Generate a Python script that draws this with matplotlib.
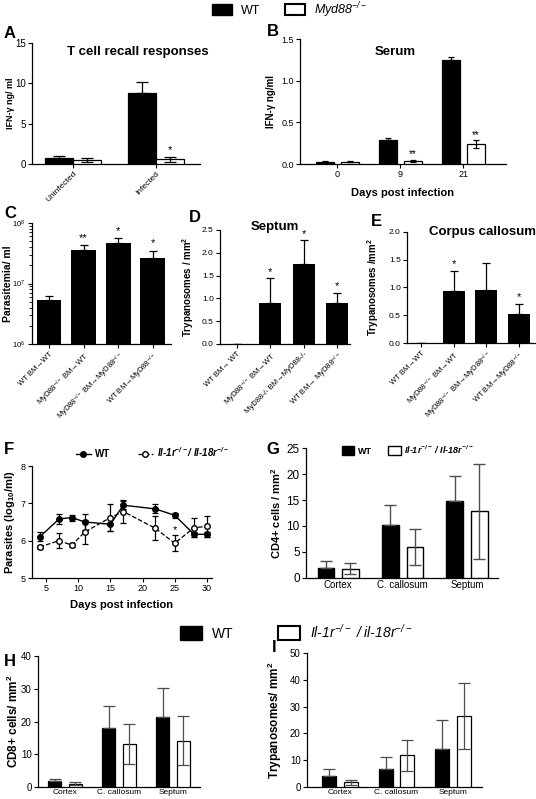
import numpy as np
import matplotlib
matplotlib.use("Agg")
import matplotlib.pyplot as plt
from matplotlib.patches import Patch
from matplotlib.lines import Line2D

plt.rcParams['font.family'] = ['Liberation Sans', 'DejaVu Sans']
plt.rcParams['mathtext.default'] = 'regular'
plt.rcParams['axes.linewidth'] = 0.9

W, H = 536, 799
KO = r'$^{-/-}$'

# ---- data ----
a_groups = ['Uninfected', 'Infected']
a_wt, a_wt_err = [0.8, 8.8], [0.2, 1.4]
a_ko, a_ko_err = [0.5, 0.6], [0.2, 0.3]
a_ko_sig = ['', '*']

b_days = ['0', '9', '21']
b_wt, b_wt_err = [0.03, 0.29, 1.25], [0.005, 0.02, 0.04]
b_ko, b_ko_err = [0.03, 0.04, 0.24], [0.005, 0.01, 0.045]
b_ko_sig = ['', '**', '**']

chim_labels = ['WT BM→WT', 'MyD88' + KO + ' BM→WT',
               'MyD88' + KO + ' BM→MyD88' + KO, 'WT BM→MyD88' + KO]
chim_labels_d = ['WT BM→ WT', 'MyD88' + KO + ' BM→WT',
                 'MyD88-/- BM→MyD88-/-', 'WT BM→ MyD88' + KO]
c_vals = [5.3e6, 3.6e7, 4.6e7, 2.6e7]
c_err = [0.9e6, 0.7e7, 1.0e7, 0.9e7]
c_sig = ['', '**', '*', '*']
d_vals = [0.0, 0.9, 1.75, 0.9]
d_err = [0.0, 0.54, 0.52, 0.22]
d_sig = ['', '*', '*', '*']
e_vals = [0.0, 0.93, 0.96, 0.53]
e_err = [0.0, 0.37, 0.49, 0.18]
e_sig = ['', '*', '', '*']

f_days = [4, 7, 9, 11, 15, 17, 22, 25, 28, 30]
f_wt = [6.1, 6.58, 6.62, 6.5, 6.44, 6.95, 6.85, 6.68, 6.17, 6.17]
f_wt_err = [0.12, 0.14, 0.08, 0.22, 0.17, 0.11, 0.12, 0.07, 0.07, 0.06]
f_ko = [5.83, 6.0, 5.88, 6.23, 6.62, 6.78, 6.33, 5.93, 6.35, 6.38]
f_ko_err = [0.05, 0.2, 0.06, 0.32, 0.35, 0.3, 0.32, 0.22, 0.25, 0.28]
f_sig_day = 25

regions = ['Cortex', 'C. callosum', 'Septum']
g_wt, g_wt_err = [2.0, 10.2, 14.8], [1.2, 3.9, 4.9]
g_ko, g_ko_err = [1.8, 6.0, 12.8], [1.0, 3.5, 9.2]
h_wt, h_wt_err = [1.8, 18.0, 21.4], [0.6, 6.8, 8.8]
h_ko, h_ko_err = [1.0, 13.1, 14.1], [0.5, 6.2, 7.5]
i_wt, i_wt_err = [4.2, 6.9, 14.2], [2.5, 4.2, 10.7]
i_ko, i_ko_err = [1.7, 11.8, 26.4], [0.8, 5.8, 12.4]

fig = plt.figure(figsize=(W / 100, H / 100), dpi=100)


def add_ax(l, t, r, b):
    ax = fig.add_axes([l / W, 1 - b / H, (r - l) / W, (b - t) / H])
    for s in ['top', 'right']:
        ax.spines[s].set_visible(False)
    ax.tick_params(direction='out', length=3, width=0.8, pad=1.5)
    return ax


def ylab(ax, txt, px, size, l, r):
    # px = right edge of the rotated label, in figure pixels
    ax.set_ylabel(txt, fontsize=size, fontweight='bold')
    ax.yaxis.set_label_coords((px - l) / (r - l), 0.5)


def letter(x, y, s):
    fig.text(x / W, 1 - y / H, s, fontsize=12, fontweight='bold', va='center')


def paired(ax, wt, wte, ko, koe, width, off, ecol='k', lw=0.9, cap=2.5):
    x = np.arange(len(wt))
    ax.bar(x - off, wt, width, color='k', edgecolor='k', linewidth=lw, zorder=3)
    ax.bar(x + off, ko, width, color='w', edgecolor='k', linewidth=lw, zorder=3)
    ax.errorbar(x - off, wt, yerr=[np.zeros(len(wt)), wte], fmt='none', ecolor=ecol,
                elinewidth=lw, capsize=cap, capthick=lw, zorder=4)
    ax.errorbar(x + off, ko, yerr=koe, fmt='none', ecolor=ecol,
                elinewidth=lw, capsize=cap, capthick=lw, zorder=4)
    return x


# ---- A ----
l, t, r, b = 32, 43, 200, 164
ax = add_ax(l, t, r, b)
x = paired(ax, a_wt, a_wt_err, a_ko, a_ko_err, 0.337, 0.17, cap=4)
for xi, v, e, s in zip(x, a_ko, a_ko_err, a_ko_sig):
    ax.text(xi + 0.17, v + e + 0.4, s, ha='center', fontsize=8)
ax.set_xlim(-0.494, 1.53)
ax.set_ylim(0, 15)
ax.set_yticks([0, 5, 10, 15])
ax.set_xticks(x)
ax.set_xticklabels(a_groups, rotation=45, ha='right', rotation_mode='anchor', fontsize=6)
ax.tick_params(axis='y', labelsize=7)
ylab(ax, 'IFN-γ ng/ ml', 15, 6.5, l, r)
ax.text(0.63, 0.925, 'T cell recall responses', transform=ax.transAxes,
        ha='center', va='center', fontsize=9.5, fontweight='bold')
letter(4, 33, 'A')

# ---- B ----
l, t, r, b = 300, 39, 506, 164
ax = add_ax(l, t, r, b)
x = paired(ax, b_wt, b_wt_err, b_ko, b_ko_err, 0.286, 0.2)
for xi, v, e, s in zip(x, b_ko, b_ko_err, b_ko_sig):
    ax.text(xi + 0.2, v + e + 0.03, s, ha='center', fontsize=7)
ax.set_xlim(-0.59, 2.68)
ax.set_ylim(0, 1.5)
ax.set_yticks([0, 0.5, 1.0, 1.5])
ax.set_yticklabels(['0.0', '0.5', '1.0', '1.5'])
ax.set_xticks(x)
ax.set_xticklabels(b_days)
ax.tick_params(labelsize=6.5)
ax.set_xlabel('Days post infection', fontsize=8, fontweight='bold', labelpad=6)
ylab(ax, 'IFN-γ ng/ml', 276, 7, l, r)
ax.text(0.46, 0.9, 'Serum', transform=ax.transAxes, ha='center', va='center',
        fontsize=9.5, fontweight='bold')
letter(267, 31, 'B')


def chimera(ax, vals, err, sig, width, lo, hi, stardy, log=False):
    x = np.arange(len(vals))
    ax.bar(x, vals, width, color='k', zorder=3)
    ax.errorbar(x, vals, yerr=[np.zeros(len(vals)), err], fmt='none', ecolor='k',
                elinewidth=0.9, capsize=3, capthick=0.9, zorder=2)
    for xi, v, e, s in zip(x, vals, err, sig):
        y = (v + e) * stardy if log else v + e + stardy
        ax.text(xi, y, s, ha='center', va='bottom', fontsize=8)
    ax.set_xlim(lo, hi)
    ax.set_xticks(x)
    return x


# ---- C ----
l, t, r, b = 32, 223, 171, 344
ax = add_ax(l, t, r, b)
ax.set_yscale('log')
chimera(ax, c_vals, c_err, c_sig, 0.72, -0.49, 3.52, 1.08, log=True)
ax.set_ylim(1e6, 1e8)
ax.set_xticklabels(chim_labels, rotation=45, ha='right', rotation_mode='anchor', fontsize=5.5)
ax.tick_params(axis='y', labelsize=5.5)
ax.tick_params(axis='y', which='minor', length=2, width=0.6)
ylab(ax, 'Parasitemia/ ml', 13, 7.5, l, r)
letter(4, 213, 'C')

# ---- D ----
l, t, r, b = 220, 230, 350, 344
ax = add_ax(l, t, r, b)
chimera(ax, d_vals, d_err, d_sig, 0.66, -0.51, 3.39, 0.03)
ax.set_ylim(0, 2.5)
ax.set_yticks(np.arange(0, 2.6, 0.5))
ax.set_yticklabels(['0.0', '0.5', '1.0', '1.5', '2.0', '2.5'])
ax.set_xticklabels(chim_labels_d, rotation=45, ha='right', rotation_mode='anchor', fontsize=5.5)
ax.tick_params(axis='y', labelsize=6)
ylab(ax, 'Trypanosomes / mm$^2$', 196, 7, l, r)
ax.text(0.42, 1.03, 'Septum', transform=ax.transAxes, ha='center', va='center',
        fontsize=9.5, fontweight='bold')
letter(189, 218, 'D')

# ---- E ----
l, t, r, b = 407, 232, 535, 343
ax = add_ax(l, t, r, b)
chimera(ax, e_vals, e_err, e_sig, 0.67, -0.43, 3.49, 0.03)
ax.set_ylim(0, 2.0)
ax.set_yticks(np.arange(0, 2.1, 0.5))
ax.set_yticklabels(['0.0', '0.5', '1.0', '1.5', '2.0'])
ax.set_xticklabels(chim_labels, rotation=45, ha='right', rotation_mode='anchor', fontsize=5.5)
ax.tick_params(axis='y', labelsize=6)
ylab(ax, 'Trypanosomes /mm$^2$', 381, 7, l, r)
ax.text(0.59, 1.0, 'Corpus callosum', transform=ax.transAxes, ha='center', va='center',
        fontsize=9.5, fontweight='bold')
letter(371, 222, 'E')

# ---- F ----
l, t, r, b = 32, 466, 212, 578
ax = add_ax(l, t, r, b)
ax.errorbar(f_days, f_wt, yerr=f_wt_err, fmt='-o', color='k', ms=4, lw=1,
            elinewidth=0.9, capsize=2.5, capthick=0.9, zorder=3)
ax.errorbar(f_days, f_ko, yerr=f_ko_err, fmt='--o', color='k', mfc='w', ms=4, lw=0.9,
            elinewidth=0.9, capsize=2.5, capthick=0.9, zorder=4)
k = f_days.index(f_sig_day)
ax.text(f_sig_day, f_ko[k] + f_ko_err[k] + 0.0, '*', ha='center', va='bottom', fontsize=8)
ax.set_xlim(2.8, 30.8)
ax.set_ylim(5, 8)
ax.set_xticks([5, 10, 15, 20, 25, 30])
ax.set_yticks([5, 6, 7, 8])
ax.tick_params(labelsize=6.5)
ax.set_xlabel('Days post infection', fontsize=8, fontweight='bold', labelpad=5)
ylab(ax, 'Parasites (log$_{10}$/ml)', 17, 8, l, r)
fh = [Line2D([], [], color='k', marker='o', ms=4, lw=1),
      Line2D([], [], color='k', marker='o', mfc='w', ms=4, lw=0.9, ls='--')]
leg = ax.legend(fh, ['WT', 'Il-1r' + KO + '/ Il-18r' + KO], loc='lower center',
                bbox_to_anchor=(0.67, 0.98), ncol=2, frameon=False,
                fontsize=7, handlelength=1.6, columnspacing=2.8, handletextpad=0.4)
for txt in leg.get_texts():
    txt.set_fontweight('bold')
leg.get_texts()[1].set_fontstyle('italic')
letter(4, 450, 'F')

# ---- G ----
l, t, r, b = 306, 448, 498, 578
ax = add_ax(l, t, r, b)
x = paired(ax, g_wt, g_wt_err, g_ko, g_ko_err, 0.26, 0.19, ecol='0.3', lw=1.0, cap=4)
ax.set_xlim(-0.5, 2.48)
ax.set_ylim(0, 25)
ax.set_yticks(np.arange(0, 26, 5))
ax.set_xticks(x)
ax.set_xticklabels(regions)
ax.tick_params(axis='x', labelsize=7, length=0)
ax.tick_params(axis='y', labelsize=8.5)
ylab(ax, 'CD4+ cells / mm$^2$', 283, 8, l, r)
hnd = [Patch(facecolor='k', edgecolor='k'), Patch(facecolor='w', edgecolor='k')]
leg = ax.legend(hnd, ['WT', 'Il-1r' + KO + ' / Il-18r' + KO], loc='center',
                bbox_to_anchor=(0.53, 0.99), ncol=2, frameon=False, fontsize=6.5,
                handlelength=1.4, handleheight=1.3, columnspacing=1.8, handletextpad=0.4)
for txt in leg.get_texts():
    txt.set_fontweight('bold')
leg.get_texts()[1].set_fontstyle('italic')
letter(266, 450, 'G')

# ---- H ----
l, t, r, b = 38, 656, 200, 787
ax = add_ax(l, t, r, b)
x = paired(ax, h_wt, h_wt_err, h_ko, h_ko_err, 0.25, 0.19, ecol='0.3', lw=0.9, cap=4)
ax.set_xlim(-0.5, 2.5)
ax.set_ylim(0, 40)
ax.set_yticks(np.arange(0, 41, 10))
ax.set_xticks(x)
ax.set_xticklabels(regions)
ax.tick_params(axis='x', labelsize=6, length=0)
ax.tick_params(axis='y', labelsize=7)
ylab(ax, 'CD8+ cells/ mm$^2$', 21, 8.5, l, r)
letter(4, 662, 'H')

# ---- I ----
l, t, r, b = 307, 653, 482, 787
ax = add_ax(l, t, r, b)
x = paired(ax, i_wt, i_wt_err, i_ko, i_ko_err, 0.25, 0.19, ecol='0.3', lw=0.9, cap=4)
ax.set_xlim(-0.58, 2.51)
ax.set_ylim(0, 50)
ax.set_yticks(np.arange(0, 51, 10))
ax.set_xticks(x)
ax.set_xticklabels(regions)
ax.tick_params(axis='x', labelsize=6, length=0)
ax.tick_params(axis='y', labelsize=7)
ylab(ax, 'Trypanosomes/ mm$^2$', 284, 8.5, l, r)
letter(272, 648, 'I')

# ---- figure legends ----
fig.legend([Patch(facecolor='k', edgecolor='k'), Patch(facecolor='w', edgecolor='k', linewidth=1.5)],
           ['WT', 'Myd88' + KO], loc='center', bbox_to_anchor=(290 / W, 1 - 10 / H),
           ncol=2, frameon=False, prop={'size': 9},
           handlelength=1.6, handleheight=1.0, handletextpad=0.7, columnspacing=2.0)
fig.legend([Patch(facecolor='k', edgecolor='k'), Patch(facecolor='w', edgecolor='k', linewidth=1.5)],
           ['WT', 'Il-1r' + KO + ' / il-18r' + KO], loc='center',
           bbox_to_anchor=(296 / W, 1 - 632 / H), ncol=2, frameon=False,
           prop={'size': 10}, handlelength=1.6, handleheight=1.2, handletextpad=0.7,
           columnspacing=3.2)
for lg in fig.legends:
    lg.get_texts()[1].set_fontstyle('italic')

fig.savefig('out.png', dpi=100)
